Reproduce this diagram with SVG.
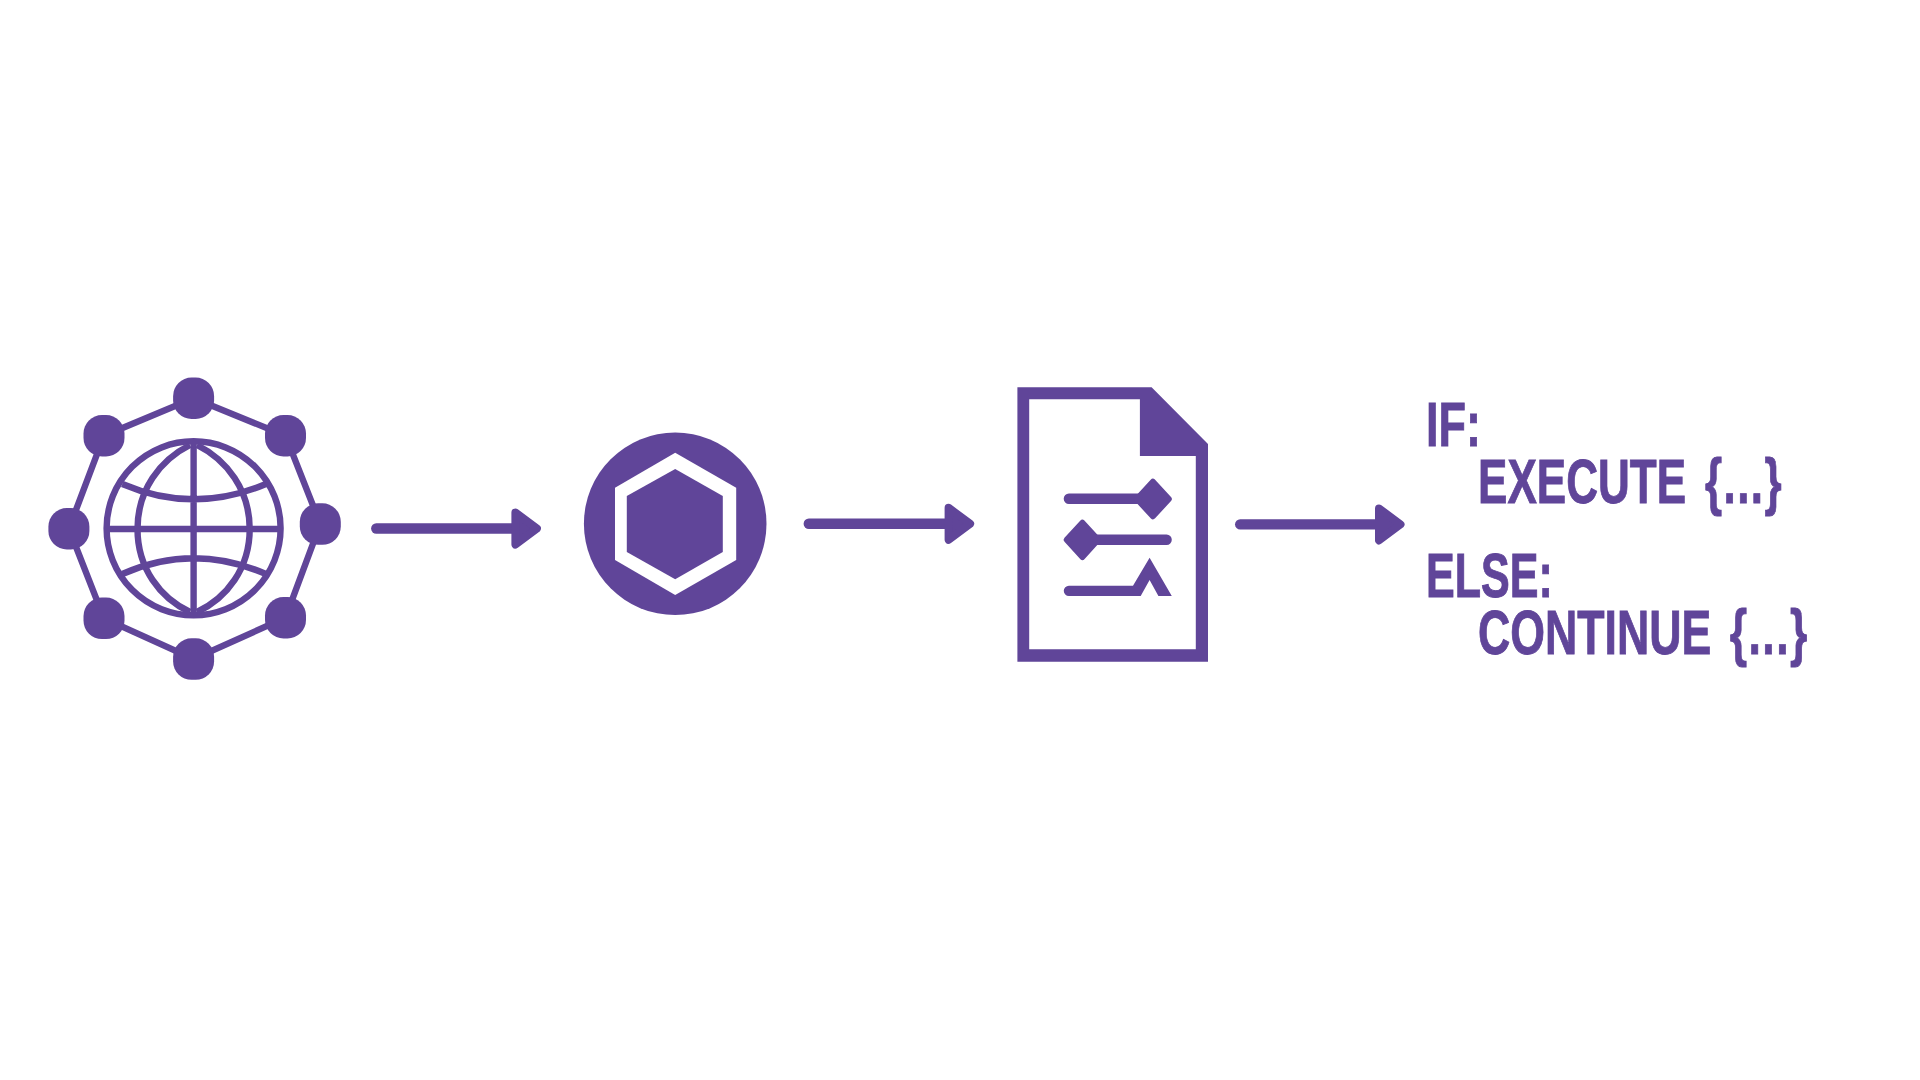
<svg xmlns="http://www.w3.org/2000/svg" width="1920" height="1080" viewBox="0 0 1920 1080">
<style>
.f{fill:#604599}
.t{font-family:"Liberation Sans",sans-serif;font-weight:700;font-size:62.5px;fill:#604599;stroke:#604599;stroke-width:.9px}
.b{letter-spacing:2px}
.n{fill:#604599;width:41px;height:41.5px;rx:18.5px;ry:18.5px}
.g{fill:none;stroke:#604599;stroke-width:6.4}
.c{fill:none;stroke:#604599;stroke-width:10.4;stroke-linecap:round}
</style>
<defs>
<marker id="head" markerUnits="userSpaceOnUse" markerWidth="40" markerHeight="50" viewBox="0 0 40 50" refX="4" refY="25" orient="auto">
<polygon points="6,9 27.5,25 6,41" fill="#604599" stroke="#604599" stroke-width="8" stroke-linejoin="round"/>
</marker>
</defs>
<rect width="1920" height="1080" fill="#ffffff"/>
<g id="connectors">
<line class="c" x1="376.3" y1="528.5" x2="513.4" y2="528.5" marker-end="url(#head)"/>
<line class="c" x1="808.8" y1="523.8" x2="946.6" y2="523.8" marker-end="url(#head)"/>
<line class="c" x1="1240.2" y1="524.4" x2="1377" y2="524.4" marker-end="url(#head)"/>
</g>
<g id="network-globe">
<polygon class="g" points="193.6,398.3 285.5,435.7 320.3,524 285.5,617.7 193.6,659 104,618.3 68.9,528.7 104,435.7"/>
<circle class="g" cx="193.6" cy="528.3" r="87"/>
<path class="g" d="M193.6,444V613M109,529H278M122.3,484Q193.6,514.6 265.9,484M122.3,574Q193.6,542.6 265.9,574"/>
<path class="g" d="M190,445C160,460 137.5,490 137.5,529C137.5,568 160,598 190,612M197,445C227,460 249.7,490 249.7,529C249.7,568 227,598 197,612"/>
<rect class="n" x="173.1" y="377.5"/>
<rect class="n" x="83.5" y="415"/>
<rect class="n" x="265" y="415"/>
<rect class="n" x="299.8" y="503.3"/>
<rect class="n" x="48.4" y="508"/>
<rect class="n" x="83.5" y="597.6"/>
<rect class="n" x="265" y="597"/>
<rect class="n" x="173.1" y="638.3"/>
</g>
<g id="hexagon">
<circle class="f" cx="675.2" cy="523.8" r="91.3"/>
<polygon fill="#ffffff" points="675.2,452.7 736.2,487.7 736.2,560 675.2,595 615,560 615,487.7"/>
<polygon class="f" points="675.2,469 722.8,496 722.8,552 675.2,579.3 626.8,552 626.8,496"/>
</g>
<g id="document">
<path class="f" fill-rule="evenodd" d="M1017.4,387.3H1151.6L1208,444V661.7H1017.4ZM1029.2,399.3H1139.9V456H1195.8V649.3H1029.2Z"/>
<path class="c" d="M1068.9,498.8H1140M1095,539.8H1166.6"/>
<polygon class="f" stroke="#604599" stroke-width="6" stroke-linejoin="round" points="1152.9,481.7 1168.8,499 1152.9,516.3 1137,499"/>
<polygon class="f" stroke="#604599" stroke-width="6" stroke-linejoin="round" points="1082.4,522.7 1098,539.8 1082.4,557 1066.7,539.8"/>
<path class="f" d="M1068.9,585.7H1133L1149.6,557.7L1171.8,596H1158.4L1149.6,580L1140.7,596H1068.9A5.15,5.15 0 0 1 1068.9,585.7Z"/>
</g>
<g id="code">
<text class="t" transform="translate(1426,445.5) scale(.72,1)">IF:</text>
<text class="t" transform="translate(1478,502.5) scale(.705,1)">EXECUTE <tspan class="b" x="322">{...}</tspan></text>
<text class="t" transform="translate(1426,596.8) scale(.69,1)">ELSE:</text>
<text class="t" transform="translate(1478,653.8) scale(.715,1)">CONTINUE <tspan class="b" x="352">{...}</tspan></text>
</g>
</svg>
